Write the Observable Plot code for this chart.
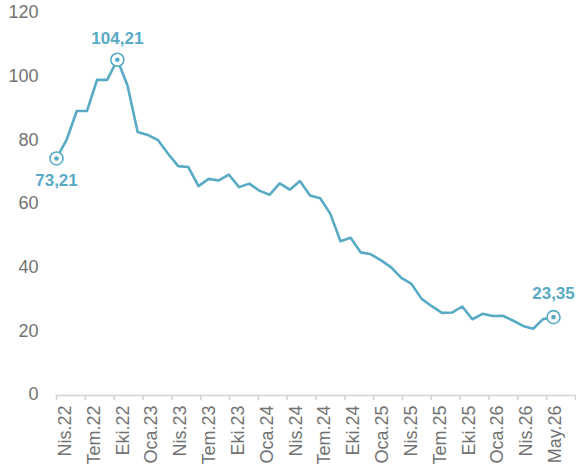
<!DOCTYPE html>
<html>
<head>
<meta charset="utf-8">
<script src="https://cdn.jsdelivr.net/npm/d3@7"></script>
<script src="https://cdn.jsdelivr.net/npm/@observablehq/plot@0.6"></script>
<style>
  html, body { margin: 0; padding: 0; background: #ffffff; }
  #chart { width: 576px; height: 469px; overflow: hidden; }
  svg { font-family: "Liberation Sans", Arial, sans-serif; }
</style>
</head>
<body>
<div id="chart"></div>
<script>
// Monthly values, Nis.22 (Apr 2022) to May.26 (May 2026)
const months = [
  "Nis.22","May.22","Haz.22","Tem.22","Ağu.22","Eyl.22","Eki.22","Kas.22","Ara.22",
  "Oca.23","Şub.23","Mar.23","Nis.23","May.23","Haz.23","Tem.23","Ağu.23","Eyl.23","Eki.23","Kas.23","Ara.23",
  "Oca.24","Şub.24","Mar.24","Nis.24","May.24","Haz.24","Tem.24","Ağu.24","Eyl.24","Eki.24","Kas.24","Ara.24",
  "Oca.25","Şub.25","Mar.25","Nis.25","May.25","Haz.25","Tem.25","Ağu.25","Eyl.25","Eki.25","Kas.25","Ara.25",
  "Oca.26","Şub.26","Mar.26","Nis.26","May.26"
];
const values = [
  73.21, 79.1, 88.1, 88.1, 97.9, 97.9, 104.21, 96.1, 81.5,
  80.6, 79.0, 74.7, 70.8, 70.5, 64.5, 66.8, 66.3, 68.1, 64.2, 65.3, 63.1,
  61.8, 65.4, 63.4, 66.1, 61.6, 60.7, 55.8, 47.2, 48.3, 43.7, 43.1,
  41.2, 39.0, 35.7, 33.8, 29.1, 26.8, 24.7, 24.8, 26.7, 22.7, 24.4,
  23.7, 23.8, 22.3, 20.6, 19.7, 22.8, 23.35
];
const xTickLabels = ["Nis.22","Tem.22","Eki.22","Oca.23","Nis.23","Tem.23","Eki.23","Oca.24","Nis.24",
  "Tem.24","Eki.24","Oca.25","Nis.25","Tem.25","Eki.25","Oca.26","Nis.26","May.26"];
const yTicks = [0, 20, 40, 60, 80, 100, 120];

const color = "#58aac5";
const data = months.map((m, i) => ({i, month: m, value: values[i]}));

// x domain spans the axis; it is split evenly into the label groups
const xMax = 51.17;
const groupW = xMax / xTickLabels.length;
const tickPos = d3.range(xTickLabels.length + 1).map(k => k * groupW);
const labelData = xTickLabels.map((t, k) => ({t, pos: (k + 0.5) * groupW}));

const maxIdx = d3.maxIndex(values);
const highlights = [
  {...data[0], dy: 22},
  {...data[maxIdx], dy: -21},
  {...data[data.length - 1], dy: -24}
];
const fmt = v => v.toFixed(2).replace(".", ",");

const chart = Plot.plot({
  width: 576,
  height: 469,
  marginLeft: 56,
  marginRight: 1,
  marginTop: 9,
  marginBottom: 74,
  insetBottom: 4,
  style: {background: "transparent", overflow: "visible"},
  x: {domain: [0, xMax], axis: null},
  y: {domain: [0, 120], axis: null},
  marks: [
    Plot.axisY(yTicks, {tickSize: 0, tickPadding: 18, fontSize: 18, fill: "#727272", dy: 3, label: null}),
    Plot.frame({anchor: "bottom", stroke: "#d2d2d2", strokeWidth: 1.5}),
    Plot.axisX(tickPos, {tickSize: 5, stroke: "#d2d2d2", strokeWidth: 1.5, tickFormat: () => "", label: null}),
    Plot.text(labelData, {x: "pos", frameAnchor: "bottom", text: "t", rotate: -90, textAnchor: "end",
      dy: 10, fontSize: 18, fill: "#727272"}),
    Plot.line(data, {x: "i", y: "value", stroke: color, strokeWidth: 2.6, strokeLinejoin: "round"}),
    Plot.dot(highlights, {x: "i", y: "value", r: 6.5, fill: "white", stroke: color, strokeWidth: 1.6}),
    Plot.dot(highlights, {x: "i", y: "value", r: 2.3, fill: color}),
    ...highlights.map(h => Plot.text([h], {x: "i", y: "value", dy: h.dy, text: d => fmt(d.value),
      fill: color, fontSize: 17, fontWeight: "bold"}))
  ]
});
document.getElementById("chart").appendChild(chart);
</script>
</body>
</html>
